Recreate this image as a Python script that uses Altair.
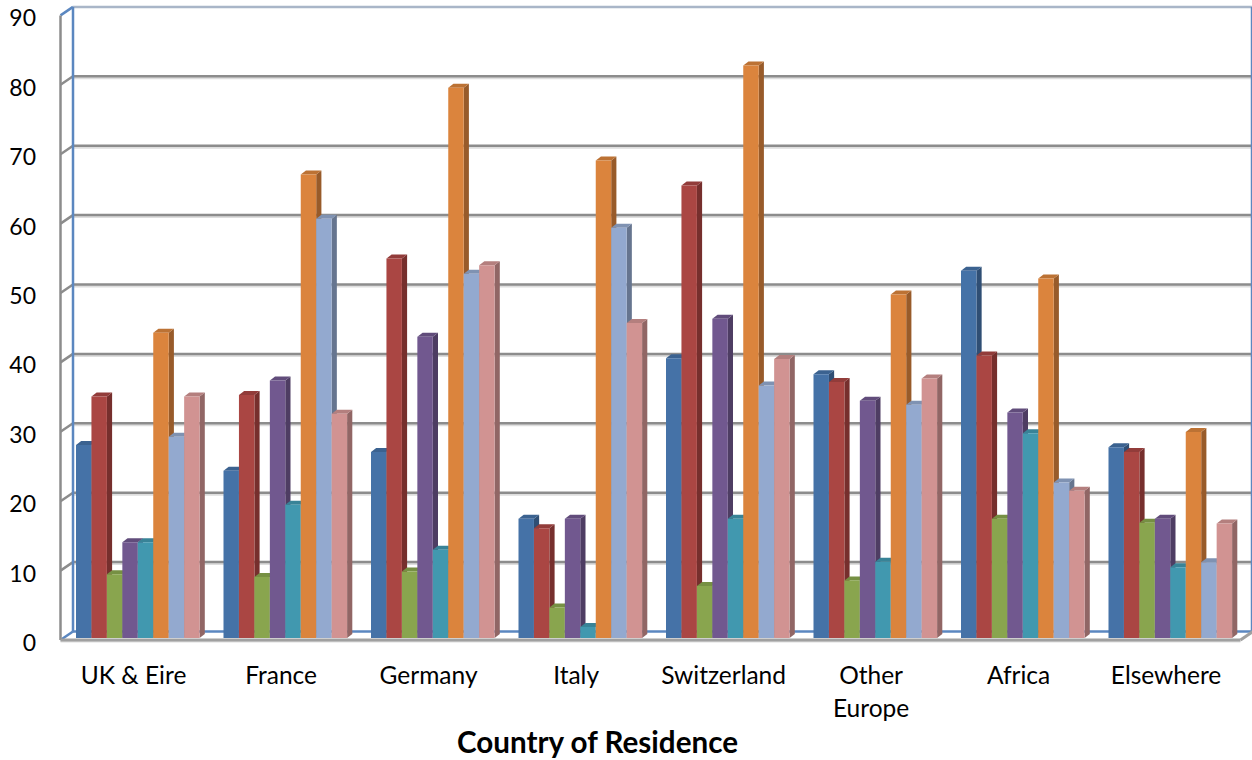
import altair as alt
import pandas as pd

categories = ["UK & Eire", "France", "Germany", "Italy", "Switzerland", "Other|Europe", "Africa", "Elsewhere"]
series_1 = [27.8, 24.1, 26.8, 17.2, 40.3, 38.0, 52.9, 27.5]
series_2 = [34.8, 35.0, 54.7, 15.8, 65.2, 36.9, 40.7, 26.8]
series_3 = [9.2, 8.8, 9.6, 4.4, 7.5, 8.3, 17.2, 16.6]
series_4 = [13.8, 37.1, 43.4, 17.2, 46.0, 34.2, 32.5, 17.2]
series_5 = [13.8, 19.2, 12.7, 1.6, 17.2, 11.0, 29.5, 10.2]
series_6 = [44.0, 66.8, 79.3, 68.8, 82.5, 49.5, 51.8, 29.7]
series_7 = [29.0, 60.4, 52.5, 59.1, 36.4, 33.6, 22.4, 10.9]
series_8 = [34.8, 32.3, 53.7, 45.4, 40.2, 37.4, 21.2, 16.5]
all_series = [series_1, series_2, series_3, series_4, series_5, series_6, series_7, series_8]

front_colors = ["#4572a7", "#aa4643", "#89a54e", "#71588f", "#4198af", "#db843d", "#93a9cf", "#d19392"]
side_colors = ["#2f4e74", "#762f2d", "#5f7236", "#4e3d63", "#2d6979", "#985b2a", "#66758f", "#916665"]
top_colors = ["#3b6290", "#923c3a", "#769043", "#614c7b", "#388397", "#bc7234", "#7f92b2", "#b47f7e"]

GRID = "#8c8c8c"
GRID_SHADOW = "#dedede"
FLOOR = "#a0a0a0"
WALL_BLUE = "#5b87c0"
WALL_TOP = "#a9b6c8"
FONT = "Lato"

# Scales: one x unit is one category, one y unit is one unit of the value axis
CAT_PX = 147.5
VAL_PX = 6.94
WIDTH = 1191.5
HEIGHT = 637
x_scale = alt.Scale(domain=[0, WIDTH / CAT_PX], nice=False, zero=False)
y_scale = alt.Scale(domain=[-2 / VAL_PX, 635 / VAL_PX], nice=False, zero=False)

# Pseudo-3D depth of the walls and of the bars
WALL_DX = 12.5 / CAT_PX
WALL_DY = 8.5 / VAL_PX
BAR_DX = 5.2 / CAT_PX
BAR_DY = 4.0 / VAL_PX
BAR_W = 15.45 / CAT_PX
BAR_SHIFT = 15.5 / CAT_PX
BAR_LIFT = 2.0 / VAL_PX
SHADOW_DY = 1.5 / VAL_PX
N_CAT = len(categories)
X_ENC = dict(scale=x_scale, axis=None)
Y_ENC = dict(scale=y_scale, axis=None)


def rules(rows, color, width):
    frame = pd.DataFrame(rows, columns=["x", "x2", "y", "y2"])
    return alt.Chart(frame).mark_rule(color=color, strokeWidth=width).encode(
        x=alt.X("x:Q", **X_ENC), x2="x2:Q", y=alt.Y("y:Q", **Y_ENC), y2="y2:Q"
    )


x_end = WIDTH / CAT_PX
ticks = list(range(0, 100, 10))

# Axis labels and the category names
axes = alt.Chart(pd.DataFrame({"x": [0.0], "y": [0.0]})).mark_point(opacity=0).encode(
    x=alt.X(
        "x:Q",
        scale=x_scale,
        axis=alt.Axis(
            values=[i + 0.492 for i in range(N_CAT)],
            labelExpr="split(" + str(categories) + "[floor(datum.value)], '|')",
            domain=False, ticks=False, grid=False,
            labelFont=FONT, labelFontSize=24.5, labelColor="#000000",
            labelPadding=22, labelBaseline="top", labelLineHeight=33, labelFlush=False, labelOverlap=False,
            title="Country of Residence", titleFont=FONT, titleFontSize=29.6, titleFontWeight="bold",
            titleColor="#000000", titleX=536.5, titleY=101, titleBaseline="middle", titleAnchor="middle", titleAlign="center",
        ),
    ),
    y=alt.Y(
        "y:Q",
        scale=y_scale,
        axis=alt.Axis(
            values=ticks, domain=False, ticks=False, grid=False,
            labelFont=FONT, labelFontSize=23, labelColor="#000000",
            labelPadding=25, labelOffset=3.5, title=None, labelFlush=False, labelOverlap=False,
        ),
    ),
)

# Walls, gridlines and floor
grid_shadow = rules([[WALL_DX, x_end, v + WALL_DY - SHADOW_DY, v + WALL_DY - SHADOW_DY] for v in ticks[1:-1]], GRID_SHADOW, 3)
back_grid = rules([[WALL_DX, x_end, v + WALL_DY, v + WALL_DY] for v in ticks[1:-1]], GRID, 2.5)
side_grid = rules([[0, WALL_DX, v, v + WALL_DY] for v in ticks[1:-1]], GRID, 2.5)
front_axis = rules([[0, 0, 0, 90]], GRID, 2.5)
top_edge = rules([[WALL_DX, x_end, 90 + WALL_DY, 90 + WALL_DY]], WALL_TOP, 2.5)
back_axis = rules(
    [[WALL_DX, WALL_DX, WALL_DY, 90 + WALL_DY], [x_end, x_end, WALL_DY, 90 + WALL_DY], [WALL_DX, x_end, WALL_DY, WALL_DY]],
    WALL_BLUE, 2.5,
)
wall_edges = rules([[0, WALL_DX, 0, WALL_DY], [0, WALL_DX, 90, 90 + WALL_DY]], WALL_BLUE, 2.5)
floor_shadow = rules([[0, N_CAT, -SHADOW_DY, -SHADOW_DY]], GRID_SHADOW, 2)
floor = rules([[0, N_CAT, 0, 0], [N_CAT, N_CAT + WALL_DX, 0, WALL_DY]], FLOOR, 3)

layers = [axes, grid_shadow, back_grid, side_grid, top_edge, back_axis, wall_edges, front_axis, floor_shadow, floor]

# Each series is drawn over the previous one so that its front hides the neighbouring side face
for s, values in enumerate(all_series):
    fronts, sides, tops = [], [], []
    for c, v in enumerate(values):
        x0 = c + BAR_SHIFT + s * BAR_W
        x1 = x0 + BAR_W
        top = v + BAR_LIFT
        fronts.append(dict(x=x0, x2=x1, y=BAR_LIFT, y2=top))
        sides.append(dict(g=c, x=x1, y=BAR_LIFT, y2=top))
        sides.append(dict(g=c, x=x1 + BAR_DX, y=BAR_LIFT + BAR_DY, y2=top + BAR_DY))
        tops.append(dict(g=c, y=top, x=x0, x2=x1))
        tops.append(dict(g=c, y=top + BAR_DY, x=x0 + BAR_DX, x2=x1 + BAR_DX))
    side = alt.Chart(pd.DataFrame(sides)).mark_area(color=side_colors[s], orient="vertical").encode(
        x=alt.X("x:Q", **X_ENC), y=alt.Y("y:Q", stack=None, **Y_ENC), y2="y2:Q", detail="g:N"
    )
    cap = alt.Chart(pd.DataFrame(tops)).mark_area(color=top_colors[s], orient="horizontal").encode(
        y=alt.Y("y:Q", **Y_ENC), x=alt.X("x:Q", stack=None, **X_ENC), x2="x2:Q", detail="g:N"
    )
    front = alt.Chart(pd.DataFrame(fronts)).mark_rect(color=front_colors[s]).encode(
        x=alt.X("x:Q", **X_ENC), x2="x2:Q", y=alt.Y("y:Q", **Y_ENC), y2="y2:Q"
    )
    layers += [side, cap, front]

chart = alt.layer(*layers).resolve_axis(x="independent", y="independent").properties(
    width=WIDTH,
    height=HEIGHT,
    padding={"left": 60.5, "top": 5, "right": 0, "bottom": 118},
    autosize=alt.AutoSizeParams(type="none"),
    background="#ffffff",
).configure_view(stroke=None)

chart.save("out.html", embed_options={"renderer": "svg", "actions": False})
